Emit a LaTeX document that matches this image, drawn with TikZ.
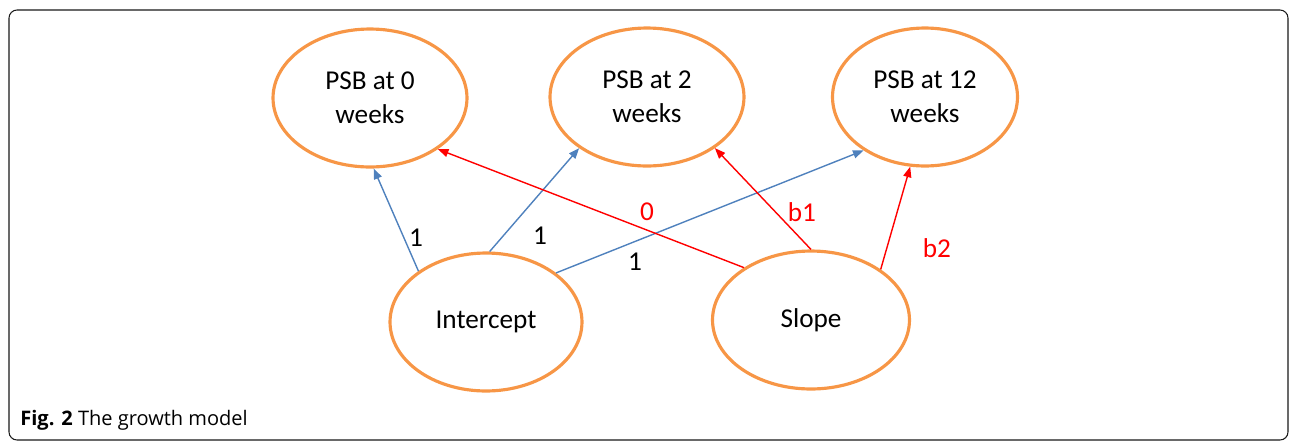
\documentclass[tikz,border=0pt]{standalone}
\usepackage{fontspec}
\setmainfont{Carlito}
\newfontfamily\capfont{Open Sans}
\usetikzlibrary{shapes.geometric}
\usetikzlibrary{arrows.meta}
\definecolor{ovalorange}{RGB}{247,150,70}
\definecolor{pathblue}{RGB}{79,129,189}
\definecolor{pathred}{RGB}{255,0,0}
\tikzset{
  factor/.style={ellipse, draw=ovalorange, line width=1.8pt, minimum width=3.88cm, minimum height=2.76cm, align=center, inner sep=0pt, font=\fontsize{15.5}{19.5}\selectfont},
  loadblue/.style={draw=pathblue, line width=0.8pt, -{Triangle[length=6pt,width=4.6pt]}},
  loadred/.style={draw=pathred, line width=0.8pt, -{Triangle[length=6pt,width=4.6pt]}},
  weight/.style={font=\fontsize{15.5}{19}\selectfont, inner sep=0pt}
}

\begin{document}
\begin{tikzpicture}[x=0.02cm, y=-0.02cm]
    \useasboundingbox (0,0) rectangle (1296,444);
    \draw [black!90, line width=0.6pt, rounded corners=0.16cm] (9,10) rectangle (1288,440);
    % measurement occasions
    \node [factor] (psb0) at (370,98) {PSB at 0\\weeks};
    \node [factor] (psb2) at (647,97) {PSB at 2\\weeks};
    \node [factor, minimum width=3.7cm] (psb12) at (925,97) {PSB at 12\\weeks};
    % growth factors
    \node [factor, minimum width=3.84cm] (int) at (486,322) {Intercept};
    \node [factor, minimum width=3.94cm] (slope) at (811,320) {Slope};
    % intercept loadings
    \draw [loadblue] (int.143) -- (psb0.273);
    \draw [loadblue] (int.87) -- (psb2.217);
    \draw [loadblue] (int.35) -- (psb12.221);
    % slope loadings
    \draw [loadred] (slope.142) -- (psb0.323);
    \draw [loadred] (slope.90) -- (psb2.323);
    \draw [loadred] (slope.36) -- (psb12.258);
    \node [weight] (w1) at (416,238) {1};
    \node [weight] (w2) at (540,236) {1};
    \node [weight] (w3) at (635,262) {1};
    \node [weight, text=pathred] (w4) at (647,212) {0};
    \node [weight, text=pathred] (w5) at (802,212) {b1};
    \node [weight, text=pathred] (w6) at (937,248) {b2};
    % caption
    \node [anchor=west, inner sep=0pt, font=\capfont\fontsize{11.4}{13}\selectfont] (cap) at (20,420) {\textbf{Fig. 2} The growth model};
\end{tikzpicture}
\end{document}
